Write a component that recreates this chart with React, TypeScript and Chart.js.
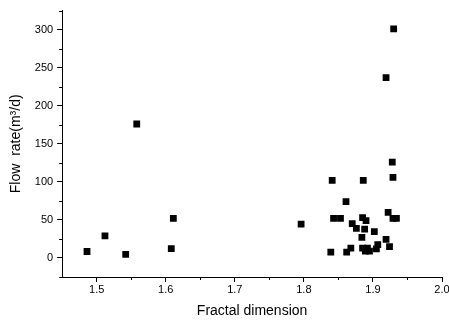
import React, { useEffect, useRef } from "react";
import { Chart, registerables } from "chart.js";

Chart.register(...registerables);

const fractalDimension: number[] = [
  1.558, 1.611, 1.512, 1.486, 1.542, 1.608,
  1.796, 1.930, 1.919, 1.928, 1.929,
  1.841, 1.886, 1.861, 1.843, 1.853,
  1.885, 1.890, 1.922, 1.929, 1.934,
  1.870, 1.876, 1.888, 1.902, 1.884, 1.919,
  1.924, 1.907, 1.905, 1.885, 1.892, 1.895, 1.889,
  1.868, 1.862, 1.839,
];
const flowRate: number[] = [
  176, 52, 29, 8.5, 4.6, 12.4,
  44.6, 301, 237, 126, 106,
  102, 102, 74, 52, 52,
  53, 49, 60, 52, 52,
  45, 39, 38, 34.6, 27, 24.5,
  15, 17.6, 12, 13, 13, 9, 9,
  13, 7.6, 7.6,
];
const xTicks: number[] = [1.5, 1.6, 1.7, 1.8, 1.9, 2.0];
const yTicks: number[] = [0, 50, 100, 150, 200, 250, 300];
const xMinorTicks: number[] = [1.55, 1.65, 1.75, 1.85, 1.95];
const yMinorTicks: number[] = [-25, 25, 75, 125, 175, 225, 275, 325];

const minorTickPlugin = {
  id: "minorTicks",
  afterDraw(chart: any) {
    const ctx = chart.ctx;
    const xs = chart.scales.x;
    const ys = chart.scales.y;
    ctx.save();
    ctx.strokeStyle = "#000";
    ctx.lineWidth = 1;
    ctx.beginPath();
    for (const v of xMinorTicks) {
      const px = Math.round(xs.getPixelForValue(v)) + 0.5;
      ctx.moveTo(px, ys.bottom);
      ctx.lineTo(px, ys.bottom + 3);
    }
    for (const v of yMinorTicks) {
      const py = Math.round(ys.getPixelForValue(v)) + 0.5;
      ctx.moveTo(xs.left, py);
      ctx.lineTo(xs.left - 3, py);
    }
    ctx.stroke();
    ctx.restore();
  },
};

const FONT = "Liberation Sans, Arial, sans-serif";

export default function App() {
  const ref = useRef<HTMLCanvasElement>(null);
  useEffect(() => {
    if (!ref.current) return;
    const data = fractalDimension.map((x, i) => ({ x, y: flowRate[i] }));
    const chart = new Chart(ref.current, {
      type: "scatter",
      data: {
        datasets: [
          {
            data,
            pointStyle: "rect",
            pointRadius: 4.8,
            pointHoverRadius: 4.8,
            backgroundColor: "#000",
            borderColor: "#000",
            borderWidth: 0,
          },
        ],
      },
      options: {
        animation: false,
        responsive: true,
        maintainAspectRatio: false,
        layout: { padding: { left: 8, right: 7, top: 6, bottom: 0 } },
        plugins: {
          legend: { display: false },
          tooltip: { enabled: false },
        },
        scales: {
          x: {
            type: "linear",
            min: 1.45,
            max: 2.0,
            afterBuildTicks: (s: any) => {
              s.ticks = xTicks.map((v) => ({ value: v }));
            },
            afterFit: (s: any) => {
              s.paddingRight = 0;
            },
            grid: {
              drawOnChartArea: false,
              drawTicks: true,
              tickLength: 5,
              tickColor: "#000",
            },
            border: { display: true, color: "#000", width: 1 },
            ticks: {
              color: "#000",
              padding: 1,
              font: { family: FONT, size: 11 },
              callback: (v: any) => Number(v).toFixed(1),
            },
            title: {
              display: true,
              text: "Fractal dimension",
              color: "#000",
              font: { family: FONT, size: 14 },
              padding: { top: 6, bottom: 0 },
            },
          },
          y: {
            type: "linear",
            min: -25,
            max: 325,
            afterBuildTicks: (s: any) => {
              s.ticks = yTicks.map((v) => ({ value: v }));
            },
            grid: {
              drawOnChartArea: false,
              drawTicks: true,
              tickLength: 5,
              tickColor: "#000",
            },
            border: { display: true, color: "#000", width: 1 },
            ticks: {
              color: "#000",
              padding: 4,
              font: { family: FONT, size: 11 },
            },
            title: {
              display: true,
              text: "Flow  rate(m³/d)",
              color: "#000",
              font: { family: FONT, size: 14 },
              padding: { top: 0, bottom: 6 },
            },
          },
        },
      },
      plugins: [minorTickPlugin],
    });
    return () => chart.destroy();
  }, []);
  return (
    <div
      style={{
        position: "fixed",
        left: 0,
        top: 0,
        width: 449,
        height: 320,
        background: "#fff",
      }}
    >
      <canvas ref={ref} />
    </div>
  );
}
